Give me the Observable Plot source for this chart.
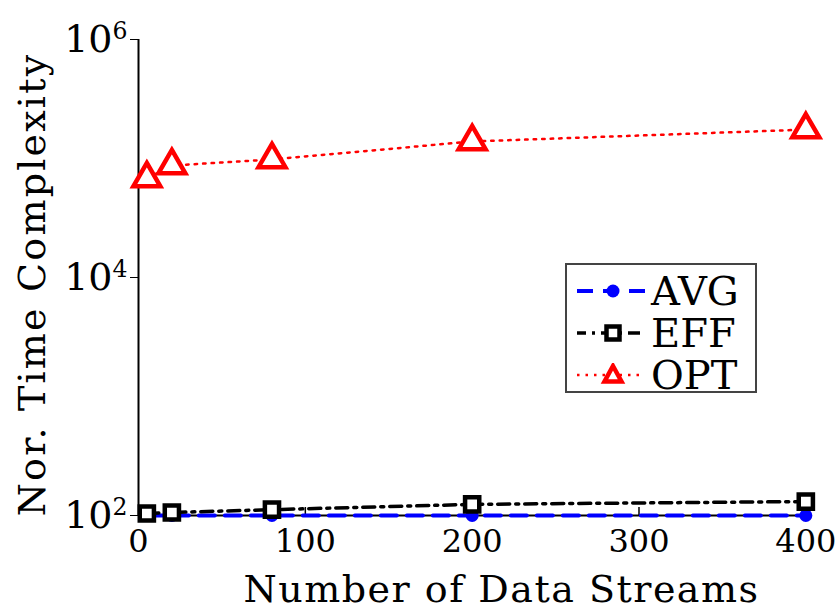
<!DOCTYPE html>
<html>
<head>
<meta charset="utf-8">
<script src="https://cdn.jsdelivr.net/npm/d3@7"></script>
<script src="https://cdn.jsdelivr.net/npm/@observablehq/plot@0.6"></script>
<style>
  html, body { margin: 0; padding: 0; background: #fff; }
  #wrap { position: relative; width: 837px; height: 611px; }
  #legend {
    position: absolute; left: 565px; top: 263px; width: 192px; height: 130px;
    border: 2px solid #444; background: #fff; box-sizing: border-box;
    font-family: "DejaVu Serif", "Liberation Serif", serif; font-size: 40px; letter-spacing: 0px;
  }
  .row { position: absolute; left: 10px; height: 44px; display: flex; align-items: center; }
  .row svg { margin-right: 6px; }
  svg text { font-family: "DejaVu Serif", "Liberation Serif", serif; }
</style>
</head>
<body>
<div id="wrap"><div id="legend"></div></div>
<script>
// ---- data ----
const streams = [5, 20, 80, 200, 400];
const avg = [100, 100, 100, 100, 100];
const eff = [104, 106, 112, 124, 131];
const opt = [67900, 87300, 98200, 139000, 175000];
const seriesNames = ["AVG", "EFF", "OPT"];
const xTicks = [0, 100, 200, 300, 400];
const yTicks = [1e2, 1e4, 1e6];
const xLabel = "Number of Data Streams";
const yLabel = "Nor. Time Complexity";

const seriesValues = {AVG: avg, EFF: eff, OPT: opt};
const rows = seriesNames.flatMap(s => streams.map((x, i) => ({x, y: seriesValues[s][i], s})));
const sel = s => rows.filter(d => d.s === s);

const style = {
  AVG: {color: "#0000ff", dash: "16,10", width: 4},
  EFF: {color: "#000000", dash: "12,6,3,6", width: 3.5},
  OPT: {color: "#ff0000", dash: "2.5,6", width: 2.5}
};

const font = '"DejaVu Serif", "Liberation Serif", serif';

const chart = Plot.plot({
  width: 837,
  height: 611,
  marginLeft: 138,
  marginRight: 25,
  marginTop: 39,
  marginBottom: 96,
  style: {fontFamily: font, fontSize: "38px", background: "#fff", overflow: "visible"},
  x: {domain: [0, 404]},
  y: {type: "log", domain: [1e2, 1e6]},
  marks: [
    Plot.axisX({ticks: xTicks, tickSize: 0, tickPadding: 14, fontSize: 32, label: null}),
    Plot.axisY({ticks: yTicks, tickSize: 8, tickPadding: 3, fontSize: 38, label: null,
      tickFormat: d => "10^" + Math.round(Math.log10(d))}),
    Plot.ruleX([100, 200, 300], {insetTop: 468, stroke: "#000", strokeWidth: 1.5}),
    Plot.ruleX([0], {stroke: "#000", strokeWidth: 2}),
    Plot.ruleY([1e2], {stroke: "#000", strokeWidth: 2}),
    Plot.line(sel("AVG"), {x: "x", y: "y", stroke: style.AVG.color, strokeWidth: style.AVG.width, strokeDasharray: style.AVG.dash}),
    Plot.line(sel("EFF"), {x: "x", y: "y", stroke: style.EFF.color, strokeWidth: style.EFF.width, strokeDasharray: style.EFF.dash}),
    Plot.line(sel("OPT"), {x: "x", y: "y", stroke: style.OPT.color, strokeWidth: style.OPT.width, strokeDasharray: style.OPT.dash}),
    Plot.dot(sel("AVG"), {x: "x", y: "y", symbol: "circle", r: 6.5, fill: style.AVG.color}),
    Plot.dot(sel("EFF"), {x: "x", y: "y", symbol: "square", r: 8, fill: "#fff", stroke: "#000", strokeWidth: 4.5}),
    Plot.dot(sel("OPT"), {x: "x", y: "y", symbol: "triangle", r: 10, fill: "#fff", stroke: style.OPT.color, strokeWidth: 4.5}),
    Plot.text([xLabel], {frameAnchor: "bottom", dy: 74, dx: 26, fontSize: 38, text: d => d, textAnchor: "middle", lineAnchor: "middle", fill: "#000"}),
    Plot.text([yLabel], {frameAnchor: "left", dx: -106, dy: 7, rotate: -90, fontSize: 38, text: d => d, textAnchor: "middle", lineAnchor: "middle", fill: "#000"})
  ]
});

// superscript exponents on y tick labels
chart.querySelectorAll('g[aria-label="y-axis tick label"] text').forEach(t => {
  const m = t.textContent.match(/^10\^(\d+)$/);
  if (m) t.innerHTML = `10<tspan dy="-0.55em" font-size="0.62em">${m[1]}</tspan>`;
});
const titles = chart.querySelectorAll('g[aria-label="text"] text');
titles.forEach((t, i) => t.setAttribute("letter-spacing", i === 0 ? "1.5" : "2.2"));

document.getElementById("wrap").prepend(chart);
chart.style.position = "absolute"; chart.style.left = "0"; chart.style.top = "0";

// legend
const legend = document.getElementById("legend");
const markerSvg = {
  AVG: `<circle cx="36" cy="12" r="6.5" fill="#0000ff"/>`,
  EFF: `<rect x="29.5" y="5.5" width="13" height="13" fill="#fff" stroke="#000" stroke-width="4.5"/>`,
  OPT: `<path d="M36,3 L44.5,18.5 L27.5,18.5 Z" fill="#fff" stroke="#ff0000" stroke-width="4.5" stroke-linejoin="miter"/>`
};
const dashOffsets = {AVG: 0, EFF: 3, OPT: 0};
seriesNames.forEach((s, i) => {
  const st = style[s];
  const row = document.createElement("div");
  row.className = "row";
  row.style.top = (4 + i * 42) + "px";
  row.innerHTML = `<svg width="68" height="24"><line x1="0" y1="12" x2="68" y2="12" stroke="${st.color}" stroke-width="${st.width}" stroke-dasharray="${st.dash}" stroke-dashoffset="${dashOffsets[s]}"/>${markerSvg[s]}</svg><span>${s}</span>`;
  legend.appendChild(row);
});
</script>
</body>
</html>
